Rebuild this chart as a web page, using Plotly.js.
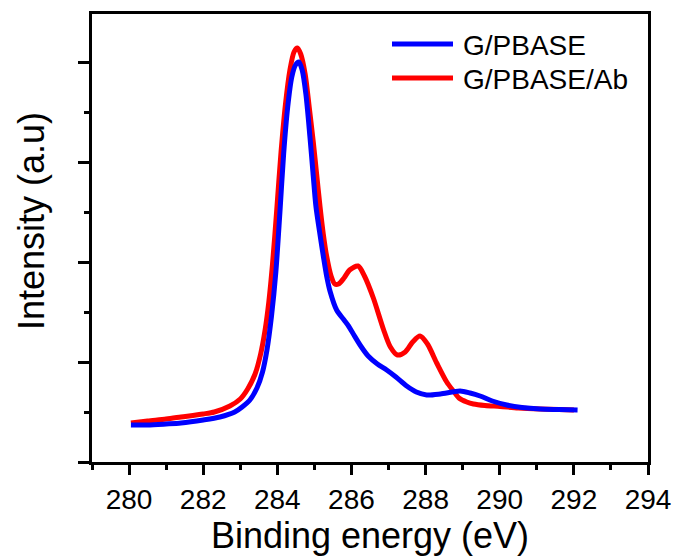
<!DOCTYPE html>
<html>
<head>
<meta charset="utf-8">
<script src="https://cdn.plot.ly/plotly-3.0.1.min.js"></script>
<style>html,body{margin:0;padding:0;background:#fff;}#chart{width:673px;height:556px;}</style>
</head>
<body>
<div id="chart"></div>
<script>
// Series names
const nameBlue = "G/PBASE";
const nameRed = "G/PBASE/Ab";

// Binding energy (eV) and intensity (a.u.) for G/PBASE
const blueX = [280.05,280.5,281.0,281.4,282.0,282.45,282.85,283.05,283.26,283.45,283.6,283.72,283.84,283.96,284.07,284.17,284.28,284.39,284.49,284.58,284.67,284.77,284.88,284.96,285.04,285.14,285.24,285.33,285.42,285.6,285.8,285.92,286.05,286.25,286.45,286.7,286.95,287.2,287.49,287.75,288.03,288.4,288.93,289.2,289.47,289.8,290.19,290.6,291.09,291.6,292.1];
const blueY = [0.37,0.37,0.38,0.39,0.42,0.45,0.50,0.55,0.62,0.74,0.90,1.12,1.45,1.90,2.50,3.08,3.55,3.85,3.97,4.00,3.92,3.68,3.25,2.90,2.56,2.30,2.06,1.86,1.71,1.52,1.42,1.36,1.28,1.16,1.06,0.98,0.92,0.85,0.76,0.70,0.67,0.68,0.71,0.69,0.66,0.61,0.57,0.545,0.53,0.525,0.52];

// Binding energy (eV) and intensity (a.u.) for G/PBASE/Ab
const redX = [280.05,280.5,281.0,281.4,282.0,282.3,282.72,283.0,283.2,283.4,283.55,283.67,283.77,283.87,283.98,284.10,284.22,284.34,284.45,284.54,284.63,284.75,284.86,284.97,285.06,285.15,285.24,285.33,285.45,285.55,285.65,285.8,285.95,286.18,286.35,286.59,286.86,287.05,287.24,287.45,287.65,287.85,288.05,288.30,288.57,288.75,288.9,289.11,289.29,289.6,290.01,290.5,291.09,291.6,292.0];
const redY = [0.39,0.41,0.43,0.45,0.48,0.50,0.56,0.63,0.73,0.88,1.08,1.32,1.60,1.98,2.50,3.10,3.58,3.92,4.10,4.14,4.08,3.88,3.55,3.20,2.88,2.56,2.28,2.06,1.86,1.78,1.78,1.84,1.92,1.96,1.86,1.64,1.33,1.15,1.07,1.10,1.20,1.26,1.18,0.99,0.80,0.71,0.64,0.60,0.58,0.565,0.555,0.54,0.53,0.525,0.52];

// X tick values and labels
const xTickVals = [280,282,284,286,288,290,292,294];
const xTickText = ["280","282","284","286","288","290","292","294"];

const FONT = "Liberation Sans, Arial, Helvetica, sans-serif";

const traces = [
  {x: redX, y: redY, type: "scatter", mode: "lines", name: nameRed,
   line: {color: "#ff0000", width: 5, shape: "spline", smoothing: 0.8}, showlegend: false},
  {x: blueX, y: blueY, type: "scatter", mode: "lines", name: nameBlue,
   line: {color: "#0000ff", width: 5, shape: "spline", smoothing: 0.8}, showlegend: false}
];

const layout = {
  width: 673, height: 556,
  margin: {l: 92, r: 25, t: 14, b: 94},
  paper_bgcolor: "#ffffff", plot_bgcolor: "#ffffff",
  font: {family: FONT, color: "#000"},
  xaxis: {
    range: [279, 294], showgrid: false, zeroline: false,
    showline: true, linecolor: "#000", linewidth: 3, mirror: true,
    ticks: "outside", ticklen: 10, tickwidth: 3, tickcolor: "#000",
    tickvals: xTickVals, ticktext: xTickText,
    tickfont: {size: 28, family: FONT, color: "#000"},
    minor: {dtick: 1, tick0: 279, ticks: "outside", ticklen: 5, tickwidth: 3, tickcolor: "#000", showgrid: false},
    title: {text: "Binding energy (eV)", font: {size: 36, family: FONT, color: "#000"}, standoff: 2}
  },
  yaxis: {
    range: [0, 4.48], showgrid: false, zeroline: false,
    showline: true, linecolor: "#000", linewidth: 3, mirror: true,
    ticks: "outside", ticklen: 11, tickwidth: 3, tickcolor: "#000",
    tick0: 0, dtick: 1, showticklabels: false,
    minor: {dtick: 0.5, ticks: "outside", ticklen: 5, tickwidth: 3, tickcolor: "#000", showgrid: false}
  },
  shapes: [
    {type: "line", xref: "paper", yref: "paper", x0: (392-92)/556, x1: (453-92)/556,
     y0: (462-44)/448, y1: (462-44)/448, line: {color: "#0000ff", width: 5}},
    {type: "line", xref: "paper", yref: "paper", x0: (392-92)/556, x1: (453-92)/556,
     y0: (462-78)/448, y1: (462-78)/448, line: {color: "#ff0000", width: 5}}
  ],
  annotations: [
    {xref: "paper", yref: "paper", x: (461-92)/556, y: (462-45)/448, xanchor: "left", yanchor: "middle",
     text: nameBlue, showarrow: false, font: {size: 28, family: FONT, color: "#000"}},
    {xref: "paper", yref: "paper", x: (461-92)/556, y: (462-79)/448, xanchor: "left", yanchor: "middle",
     text: nameRed, showarrow: false, font: {size: 28, family: FONT, color: "#000"}},
    {xref: "paper", yref: "paper", x: (31-92)/556, y: (462-221)/448, xanchor: "center", yanchor: "middle",
     text: "Intensity (a.u)", textangle: -90, showarrow: false, font: {size: 36, family: FONT, color: "#000"}}
  ]
};

Plotly.newPlot("chart", traces, layout, {displayModeBar: false, staticPlot: true});
</script>
</body>
</html>
